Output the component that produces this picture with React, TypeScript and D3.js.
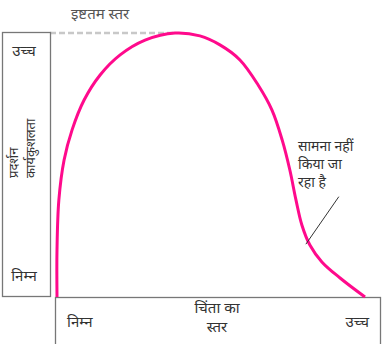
import React from "react";
import * as d3 from "d3";

const anxiety = [0, 0, 0.6, 2.3, 4.9, 8.8, 14, 20.5, 28.6, 38.3, 46.4, 52.9, 59.4, 65.3, 69.8, 73.1, 75.6, 77.6, 79.5, 82.1, 86, 91.9, 100];
const performance = [0, 17.8, 36.7, 51.9, 63.3, 74.6, 84.1, 91.7, 97.3, 100, 98.9, 95.5, 89.8, 80.3, 70.8, 59.5, 48.1, 36.7, 27.3, 19.7, 13.3, 7.2, 0];

const optimalLabel = "इष्टतम स्तर";
const yHigh = "उच्च";
const yLow = "निम्न";
const yTitle = ["प्रदर्शन", "कार्यकुशलता"];
const xLow = "निम्न";
const xHigh = "उच्च";
const xTitle = ["चिंता का", "स्तर"];
const noteLines = ["सामना नहीं", "किया जा", "रहा है"];
const notePointer = [
  { x: 80.8, y: 20 },
  { x: 91.5, y: 38 },
];

export default function App() {
  const W = 384, H = 344;
  const x = d3.scaleLinear().domain([0, 100]).range([57, 365]);
  const y = d3.scaleLinear().domain([0, 100]).range([297, 33]);
  const data = anxiety.map((a, i) => ({ a, p: performance[i] }));
  const line = d3
    .line<{ a: number; p: number }>()
    .x((d) => x(d.a))
    .y((d) => y(d.p))
    .curve(d3.curveCatmullRom.alpha(0.5));
  const font = "'Noto Sans', 'DejaVu Sans', sans-serif";
  const tc = "#333";
  return (
    <svg
      width={W}
      height={H}
      style={{ position: "absolute", left: 0, top: 0, background: "#fff" }}
      fontFamily={font}
    >
      {/* optimal dashed line */}
      <line x1={50} x2={x(38.3)} y1={y(100)} y2={y(100)} stroke="#c8c8c8" strokeWidth={2.5} strokeDasharray="6 3" />
      <text x={71} y={19} fontSize={15} fill="#555">{optimalLabel}</text>

      {/* left axis box */}
      <rect x={2.5} y={32.5} width={48} height={264} fill="none" stroke="#777" strokeWidth={1.3} />
      <text x={24} y={56} fontSize={15} fill={tc} textAnchor="middle">{yHigh}</text>
      <text x={24} y={281} fontSize={15} fill={tc} textAnchor="middle">{yLow}</text>
      <text transform="translate(18,178) rotate(-90)" fontSize={13} fill={tc}>{yTitle[0]}</text>
      <text transform="translate(35,178) rotate(-90)" fontSize={13} fill={tc}>{yTitle[1]}</text>

      {/* bottom axis box */}
      <rect x={55.5} y={297.5} width={325} height={60} fill="none" stroke="#777" strokeWidth={1.3} />
      <text x={67} y={327} fontSize={15} fill={tc}>{xLow}</text>
      <text x={369} y={327} fontSize={15} fill={tc} textAnchor="end">{xHigh}</text>
      <text x={217} y={313} fontSize={15} fill={tc} textAnchor="middle">{xTitle[0]}</text>
      <text x={217} y={332} fontSize={15} fill={tc} textAnchor="middle">{xTitle[1]}</text>

      {/* curve */}
      <path d={line(data) || ""} fill="none" stroke="#ff0a8c" strokeWidth={3} />

      {/* annotation */}
      <line
        x1={x(notePointer[0].x)}
        y1={y(notePointer[0].y)}
        x2={x(notePointer[1].x)}
        y2={y(notePointer[1].y)}
        stroke="#333"
        strokeWidth={1}
      />
      {noteLines.map((t, i) => (
        <text key={i} x={298} y={151 + i * 18} fontSize={14} fill={tc}>
          {t}
        </text>
      ))}
    </svg>
  );
}
